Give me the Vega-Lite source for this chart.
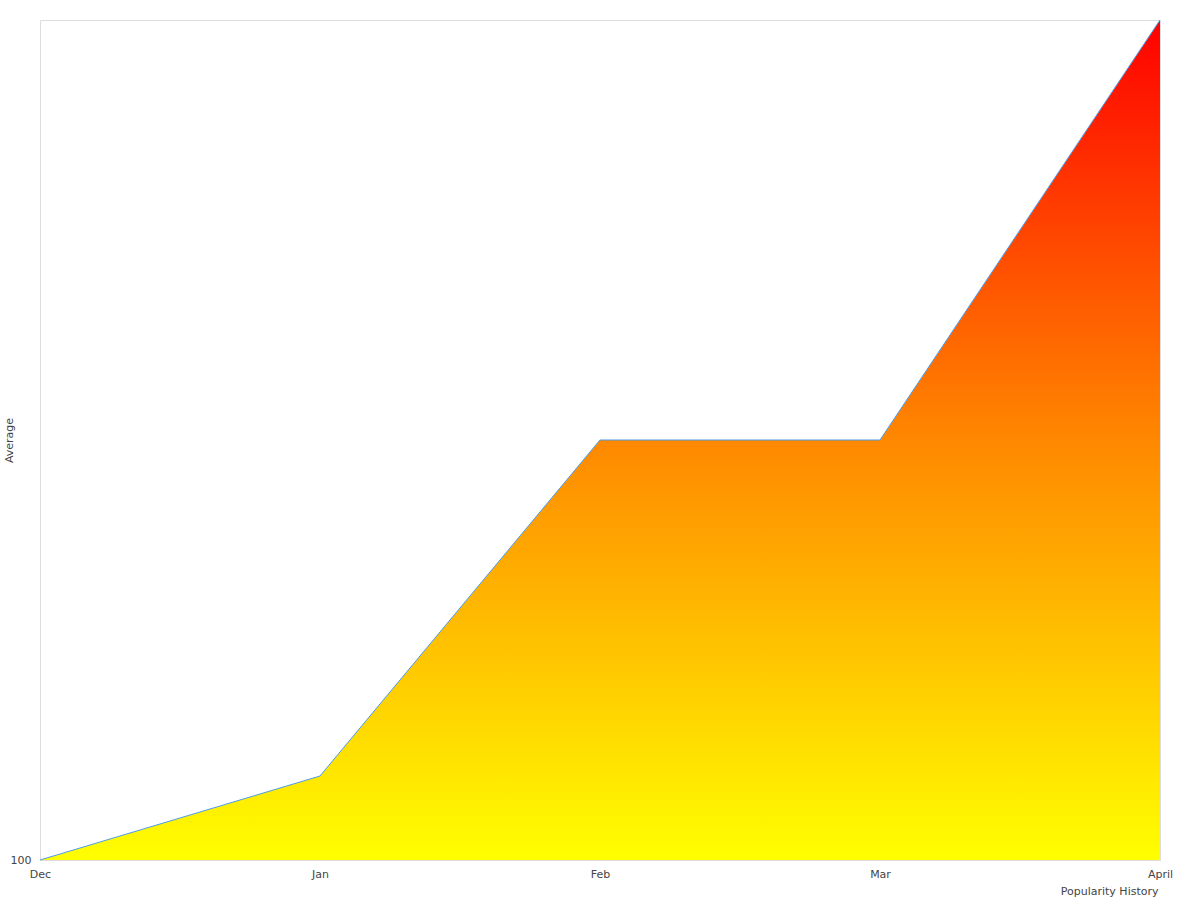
{
  "$schema": "https://vega.github.io/schema/vega-lite/v6.json",
  "width": 1120,
  "height": 840,
  "autosize": "none",
  "padding": {"left": 40, "top": 20, "right": 40, "bottom": 40},
  "background": "white",
  "config": {
    "font": "DejaVu Sans",
    "view": {"stroke": "#dddddd", "strokeWidth": 1},
    "axis": {"grid": false, "domain": false, "ticks": false, "labelColor": "#444444", "titleColor": "#444444", "labelFontSize": 11, "titleFontSize": 11, "titleFontWeight": "normal", "labelFont": "DejaVu Sans", "titleFont": "DejaVu Sans"}
  },
  "data": {
    "values": [
      {"month": "Dec", "average": 100},
      {"month": "Jan", "average": 101},
      {"month": "Feb", "average": 105},
      {"month": "Mar", "average": 105},
      {"month": "April", "average": 110}
    ]
  },
  "mark": {
    "type": "area",
    "opacity": 1,
    "fill": {
      "gradient": "linear",
      "x1": 0, "y1": 1, "x2": 0, "y2": 0,
      "stops": [
        {"offset": 0, "color": "#ffff00"},
        {"offset": 0.5, "color": "#ff8800"},
        {"offset": 1, "color": "#ff0000"}
      ]
    },
    "line": {"color": "#4a9be8", "strokeWidth": 1}
  },
  "encoding": {
    "x": {
      "field": "month",
      "type": "ordinal",
      "sort": null,
      "scale": {"type": "point", "padding": 0},
      "axis": {"labelAngle": 0, "labelPadding": 8, "title": "Popularity History", "titleAnchor": "end", "titlePadding": 6, "titleX": 1118}
    },
    "y": {
      "field": "average",
      "type": "quantitative",
      "scale": {"domain": [100, 110], "nice": false, "zero": false},
      "axis": {"values": [100], "labelPadding": 9, "title": "Average", "titleX": -26}
    },
    "y2": {"datum": 100}
  }
}
